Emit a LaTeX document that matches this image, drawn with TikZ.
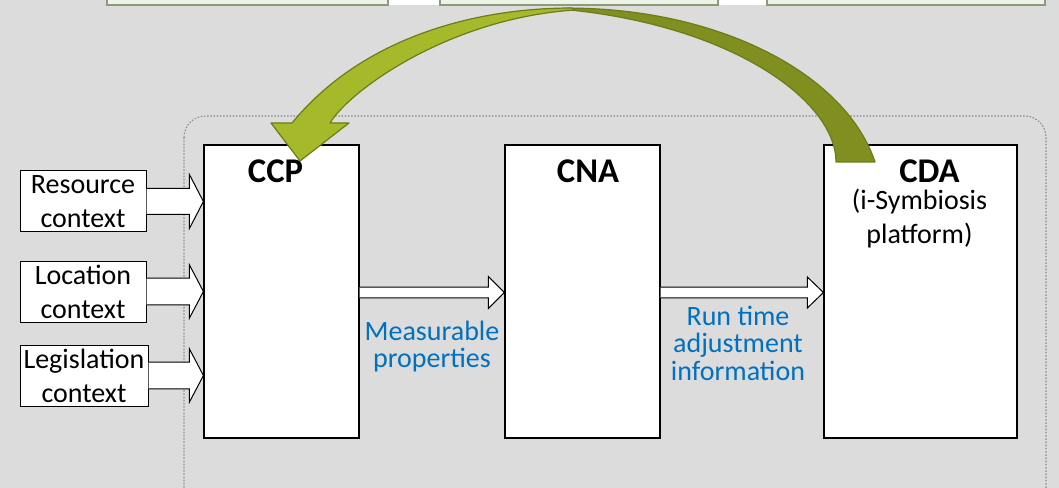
\documentclass[tikz,border=0pt]{standalone}
\usepackage{fontspec}
\setmainfont{Carlito}
\usetikzlibrary{calc,shadows}

\definecolor{bg}{HTML}{DCDCDC}
\definecolor{labelblue}{HTML}{0070C0}
\definecolor{leaf}{HTML}{A6B92B}
\definecolor{leafdark}{HTML}{808F1F}
\definecolor{leafline}{HTML}{6D7C16}
\definecolor{tabfill}{HTML}{EEF3E8}
\definecolor{tabline}{HTML}{8C9C7A}
\definecolor{frameline}{HTML}{8C8C8C}

% centred multi-line text whose baseline is the first line's baseline
\newcommand\stack[1]{\begin{tabular}[t]{@{}c@{}}#1\end{tabular}}

% open-tailed block arrow: start point, end point, shaft half-width, head half-width, head length
\newcommand\blockarrow[5]{%
  \filldraw[blk] let \p1=(#1), \p2=(#2) in
    (\x1,\y1+#3) -- (\x2-#5,\y1+#3) -- (\x2-#5,\y1+#4) -- (\x2,\y1)
    -- (\x2-#5,\y1-#4) -- (\x2-#5,\y1-#3) -- (\x1,\y1-#3);}

\begin{document}
\begin{tikzpicture}[x=0.75pt,y=-0.75pt,
  stage/.style={draw=black, line width=0.9pt, fill=white, inner sep=0pt,
    minimum height=219.75pt,
    drop shadow={shadow xshift=0.9pt, shadow yshift=-0.9pt, fill=black!60, opacity=1}},
  ctxbox/.style={draw=black, line width=0.75pt, fill=white, inner sep=0pt,
    align=center, minimum height=45.75pt,
    font=\fontsize{21}{25.5}\selectfont},
  hdr/.style={anchor=base, inner sep=0pt, font=\fontsize{26}{30}\selectfont\bfseries},
  subhdr/.style={anchor=base, inner sep=0pt, font=\fontsize{21}{24.75}\selectfont},
  flowlabel/.style={anchor=base, inner sep=0pt, text=labelblue,
    font=\fontsize{21}{20.4}\selectfont},
  blk/.style={draw=black, line width=0.75pt, fill=white},
  tab/.style={draw=tabline, fill=tabfill, line width=0.8pt},
  ribbon/.style={draw=leafline, line width=0.9pt, line join=round}
]
\useasboundingbox (0,0) rectangle (1059,488);
\fill[bg] (0,0) rectangle (1059,488);

% strip of tabs along the upper edge
\fill[white] (388,-3) rectangle (767,5.5);
\draw[tab] (107,-6) rectangle (388,5);
\draw[tab] (440,-6) rectangle (718,5);
\draw[tab] (767,-6) rectangle (1045,5);

% dotted frame round the three stages
\draw[frameline, line width=0.8pt, dash pattern=on 1.2pt off 1.2pt, rounded corners=16pt]
  (184,116) rectangle (1046,510);

% stages
\node[stage, minimum width=116.25pt] (ccp) at (281.5,291.5) {};
\node[stage, minimum width=116.25pt] (cna) at (582.5,291.5) {};
\node[stage, minimum width=144.75pt] (cda) at (920.5,291.5) {};

% context inputs
\node[ctxbox, minimum width=94.5pt] (res) at (83,201.5) {Resource\\context};
\node[ctxbox, minimum width=94.5pt] (loc) at (83,291.5) {Location\\context};
\node[ctxbox, minimum width=96pt]   (leg) at (84,375.5) {Legislation\\context};

\blockarrow{res.east}{ccp.west}{9.75pt}{20.25pt}{10.5pt}
\blockarrow{loc.east}{ccp.west}{10pt}{20pt}{10.5pt}
\blockarrow{leg.east}{ccp.west}{10pt}{20pt}{10.5pt}

% flows between stages
\blockarrow{$(ccp.east)+(0,1)$}{cna.west}{4.1pt}{12pt}{12pt}
\blockarrow{$(cna.east)+(0,1)$}{cda.west}{4.1pt}{11.6pt}{12pt}

\node[flowlabel] (mp) at (432,340) {\stack{Measurable\\properties}};
\node[flowlabel] (rt) at (738,325) {\stack{Run time\\adjustment\\information}};

% feedback arrow from CDA back to CCP: back face first, then front face with head
\path[ribbon, fill=leafdark]
  (875,162) arc[start angle=-11.7, end angle=-90, x radius=313, y radius=193]
  -- (565,9.5)
  .. controls (730,25) and (836,100) .. (836,162)
  -- cycle;
\path[ribbon, fill=leaf]
  (572,8) .. controls (470,8) and (360,40) .. (292,123)
  -- (271,123) -- (300,161) -- (349,123) -- (330,123)
  .. controls (350,90) and (450,18) .. (575,10) -- cycle;

% stage titles
\node[hdr] (tccp) at (275.5,183) {CCP};
\node[hdr] (tcna) at (588,183) {CNA};
\node[hdr] (tcda) at (929.5,183) {CDA};
\node[subhdr] (scda) at (919.5,210) {\stack{(i-Symbiosis\\platform)}};
\end{tikzpicture}
\end{document}
